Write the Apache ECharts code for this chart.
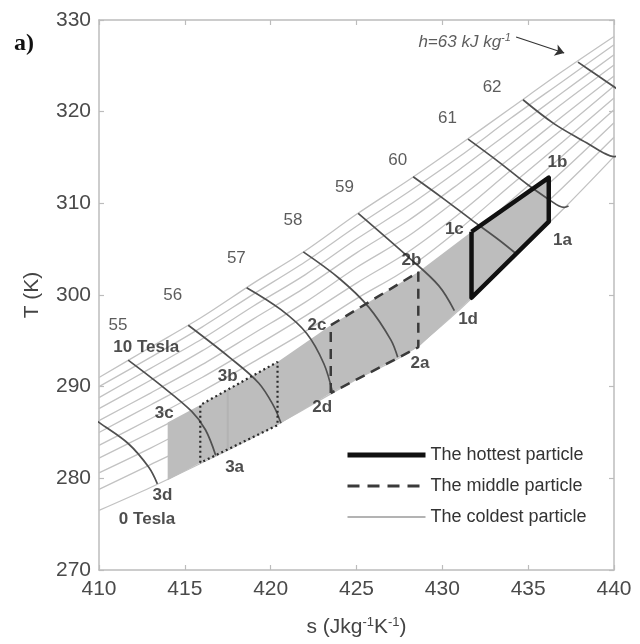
<!DOCTYPE html>
<html>
<head>
<meta charset="utf-8">
<script src="https://cdn.jsdelivr.net/npm/echarts@6/dist/echarts.min.js"></script>
<style>
  html, body { margin: 0; padding: 0; background: #ffffff; }
  #chart { width: 640px; height: 644px; }
</style>
</head>
<body>
<div id="chart"></div>
<script>
// Entropy grid (J kg-1 K-1) on which the isofield curves are tabulated
const entropyGrid = [410, 413, 416, 419, 422, 425, 428, 431, 434, 437, 440];

// Temperature (K) of each isofield curve, 0 T to 10 T
const tesla0  = [276.5, 279.0, 281.7, 284.5, 287.6, 290.8, 293.7, 298.4, 303.9, 309.3, 315.1];
const tesla1  = [278.8, 281.5, 284.2, 287.2, 290.4, 293.7, 296.7, 301.3, 306.5, 311.7, 317.2];
const tesla2  = [280.6, 283.3, 286.2, 289.2, 292.4, 295.8, 299.0, 303.4, 308.5, 313.5, 318.8];
const tesla3  = [282.2, 285.0, 287.9, 291.1, 294.3, 297.8, 301.0, 305.4, 310.3, 315.2, 320.2];
const tesla4  = [283.6, 286.5, 289.5, 292.7, 296.0, 299.6, 302.9, 307.2, 312.0, 316.7, 321.5];
const tesla5  = [285.0, 288.0, 291.0, 294.3, 297.7, 301.3, 304.7, 308.9, 313.6, 318.1, 322.8];
const tesla6  = [286.3, 289.3, 292.4, 295.8, 299.2, 303.0, 306.4, 310.6, 315.0, 319.5, 323.9];
const tesla7  = [287.6, 290.7, 293.9, 297.4, 300.8, 304.6, 308.1, 312.2, 316.5, 320.9, 325.1];
const tesla8  = [288.8, 292.0, 295.2, 298.8, 302.2, 306.1, 309.7, 313.7, 317.9, 322.1, 326.2];
const tesla9  = [290.0, 293.2, 296.5, 300.1, 303.6, 307.5, 311.2, 315.1, 319.3, 323.3, 327.3];
const tesla10 = [291.0, 294.3, 297.6, 301.3, 304.8, 308.8, 312.5, 316.4, 320.4, 324.4, 328.2];
const isofieldCurves = [tesla0, tesla1, tesla2, tesla3, tesla4, tesla5, tesla6, tesla7, tesla8, tesla9, tesla10];

// Constant-enthalpy curves (s, T), from the 10 T curve down to the 0 T curve
const h54 = [[409.0, 287.5], [410.0, 286.1], [411.7, 283.8], [412.9, 281.2], [413.4, 279.4]];
const h55 = [[411.7, 292.9], [413.5, 290.3], [415.4, 287.3], [416.2, 285.3], [416.8, 282.5]];
const h56 = [[415.2, 296.7], [417.6, 293.2], [419.3, 290.4], [420.2, 287.8], [420.6, 286.0]];
const h57 = [[418.6, 300.8], [420.6, 298.4], [422.1, 295.8], [423.1, 292.5], [423.6, 289.4]];
const h58 = [[421.9, 304.7], [424.0, 301.8], [425.7, 298.7], [427.0, 295.1], [427.4, 293.2]];
const h59 = [[425.1, 308.9], [428.1, 304.0], [429.8, 301.0], [430.7, 298.3]];
const h60 = [[428.3, 312.9], [430.0, 310.6], [431.7, 308.2], [433.3, 306.0], [434.3, 304.5]];
const h61 = [[431.5, 317.0], [433.3, 314.5], [435.0, 312.0], [436.3, 310.3], [436.8, 309.7], [437.1, 309.55], [437.35, 309.7]];
const h62 = [[434.7, 321.3], [436.5, 318.7], [438.4, 316.6], [439.4, 315.5], [440.0, 315.1], [440.3, 315.2]];
const h63 = [[437.9, 325.4], [439.0, 324.0], [440.4, 322.2]];
const enthalpyCurves = [h54, h55, h56, h57, h58, h59, h60, h61, h62, h63];

// Enthalpy values printed beside the curves, kJ kg-1
const enthalpyTags = ['55', '56', '57', '58', '59', '60', '61', '62'];
const enthalpyTagAt = [[411.1, 296.7], [414.3, 300.0], [418.0, 304.0], [421.3, 308.2],
                       [424.3, 311.8], [427.4, 314.7], [430.3, 319.3], [432.9, 322.7]];

// Region swept by the regenerator particles
const bandUpper = [[414.0, 286.1], [415.9, 288.0], [420.4, 292.7], [423.5, 296.7], [428.6, 302.5], [431.7, 306.9]];
const bandLower = [[414.0, 279.8], [415.9, 281.7], [420.4, 285.8], [423.5, 289.3], [428.6, 294.3], [431.7, 299.7]];

// Particle cycles: states a, b, c, d
const hottestCycle = [[431.7, 306.9], [436.2, 312.8], [436.2, 308.0], [431.7, 299.7], [431.7, 306.9]];
const middleCycle  = [[423.5, 289.3], [423.5, 296.7], [428.6, 302.5], [428.6, 294.3], [423.5, 289.3]];
const coldestCycle = [[415.9, 281.7], [415.9, 288.0], [420.4, 292.7], [420.4, 285.8], [415.9, 281.7]];
const coldestDivider = [[417.5, 289.7], [417.5, 283.2]];

// State labels
const stateNames = ['1a', '1b', '1c', '1d', '2a', '2b', '2c', '2d', '3a', '3b', '3c', '3d'];
const stateAt = [[437.0, 306.0], [436.7, 314.5], [430.7, 307.2], [431.5, 297.3],
                 [428.7, 292.6], [428.2, 303.8], [422.7, 296.7], [423.0, 287.8],
                 [417.9, 281.2], [417.5, 291.1], [413.8, 287.1], [413.7, 278.2]];

// Field labels
const fieldNames = ['10 Tesla', '0 Tesla'];
const fieldAt = [[412.75, 294.3], [412.8, 275.5]];

// Enthalpy arrow annotation
const arrowFrom = [434.3, 328.15];
const arrowTo = [437.1, 326.4];
const arrowTextAt = [431.3, 327.6];

const chart = echarts.init(document.getElementById('chart'), null, { renderer: 'canvas' });

const FONT = '"Liberation Sans", Arial, sans-serif';
const AXIS_GREY = '#bcbcbc';

const series = [];

isofieldCurves.forEach((temps, i) => {
  series.push({
    type: 'line',
    name: i + ' T',
    data: entropyGrid.map((s, k) => [s, temps[k]]),
    smooth: 0.3,
    symbol: 'none',
    silent: true,
    lineStyle: { color: '#c2c2c2', width: 1.3 },
    z: 1
  });
});

const bandPolygon = bandUpper.concat(bandLower.slice().reverse());
series.push({
  type: 'custom',
  name: 'band',
  coordinateSystem: 'cartesian2d',
  silent: true,
  data: [bandUpper[0]],
  renderItem: (params, api) => ({
    type: 'group',
    children: [
      { type: 'polygon', shape: { points: bandPolygon.map(p => api.coord(p)) }, style: { fill: '#bdbdbd' } },
      { type: 'polygon', shape: { points: hottestCycle.map(p => api.coord(p)) }, style: { fill: '#bdbdbd' } }
    ]
  }),
  z: 2
});

enthalpyCurves.forEach((pts, i) => {
  series.push({
    type: 'line',
    name: 'h' + (54 + i),
    data: pts,
    smooth: 0.35,
    symbol: 'none',
    silent: true,
    lineStyle: { color: '#505050', width: 1.7 },
    z: 3
  });
});

series.push({
  type: 'line', name: 'Coldest cycle outline', data: coldestCycle, symbol: 'none', silent: true,
  lineStyle: { color: '#2a2a2a', width: 2.2, type: [2, 3] }, z: 4
});
series.push({
  type: 'line', name: 'The coldest particle', data: coldestDivider, symbol: 'none', silent: true,
  itemStyle: { color: '#b3b3b3' },
  lineStyle: { color: '#b3b3b3', width: 2 }, z: 4
});
series.push({
  type: 'line', name: 'The middle particle', data: middleCycle, symbol: 'none', silent: true,
  itemStyle: { color: '#3a3a3a' },
  lineStyle: { color: '#3a3a3a', width: 2.5, type: [10, 7] }, z: 4
});
series.push({
  type: 'line', name: 'The hottest particle', data: hottestCycle, symbol: 'none', silent: true,
  itemStyle: { color: '#111111' },
  lineStyle: { color: '#111111', width: 4.5, join: 'round' }, z: 5
});

function textSeries(name, names, coords, style) {
  return {
    type: 'scatter',
    name: name,
    symbolSize: 0,
    silent: true,
    data: names.map((n, i) => ({ name: n, value: coords[i] })),
    label: Object.assign({ show: true, position: 'inside', formatter: p => p.name, fontFamily: FONT }, style),
    z: 6
  };
}

series.push(textSeries('enthalpy tags', enthalpyTags, enthalpyTagAt, { fontSize: 17, color: '#333333' }));
series.push(textSeries('states', stateNames, stateAt, { fontSize: 17, fontWeight: 'bold', color: '#222222' }));
series.push(textSeries('fields', fieldNames, fieldAt, { fontSize: 17, fontWeight: 'bold', color: '#222222' }));
series.push({
  type: 'scatter',
  name: 'arrow text',
  symbolSize: 0,
  silent: true,
  data: [{ name: 'h63', value: arrowTextAt }],
  label: {
    show: true, position: 'inside',
    formatter: '{t|h=63 kJ kg}{s|-1}',
    rich: {
      t: { fontSize: 17, fontStyle: 'italic', color: '#333333', fontFamily: FONT },
      s: { fontSize: 11, fontStyle: 'italic', color: '#333333', fontFamily: FONT, verticalAlign: 'top', padding: [0, 0, 8, 0] }
    }
  },
  z: 6
});
series.push({
  type: 'lines',
  name: 'arrow',
  coordinateSystem: 'cartesian2d',
  silent: true,
  data: [{ coords: [arrowFrom, arrowTo] }],
  symbol: ['none', 'arrow'],
  symbolSize: 9,
  lineStyle: { color: '#333333', width: 1.2, opacity: 1 },
  z: 6
});

const axisCommon = {
  type: 'value',
  axisLine: { show: true, onZero: false, lineStyle: { color: AXIS_GREY, width: 1.5 } },
  axisTick: { show: true, inside: true, length: 5, lineStyle: { color: AXIS_GREY, width: 1.2 } },
  splitLine: { show: false }
};

const option = {
  backgroundColor: '#ffffff',
  animation: false,
  grid: { left: 99, right: 26, top: 20, bottom: 74, containLabel: false },
  xAxis: [
    Object.assign({}, axisCommon, {
      min: 410, max: 440, interval: 5, position: 'bottom',
      axisLabel: { fontSize: 21, color: '#4a4a4a', fontFamily: FONT, margin: 9 },
      name: '{m|s (Jkg}{s|-1}{m|K}{s|-1}{m|)}',
      nameLocation: 'middle',
      nameGap: 46,
      nameTextStyle: {
        rich: {
          m: { fontSize: 21, color: '#444444', fontFamily: FONT },
          s: { fontSize: 13, color: '#444444', fontFamily: FONT, verticalAlign: 'top', padding: [0, 0, 10, 0] }
        }
      }
    }),
    Object.assign({}, axisCommon, {
      min: 410, max: 440, interval: 5, position: 'top',
      axisLabel: { show: false }
    })
  ],
  yAxis: [
    Object.assign({}, axisCommon, {
      min: 270, max: 330, interval: 10, position: 'left',
      axisLabel: { fontSize: 21, color: '#4a4a4a', fontFamily: FONT, margin: 8 },
      name: 'T (K)',
      nameLocation: 'middle',
      nameGap: 56,
      nameTextStyle: { fontSize: 21, color: '#444444', fontFamily: FONT }
    }),
    Object.assign({}, axisCommon, {
      min: 270, max: 330, interval: 10, position: 'right',
      axisLabel: { show: false }
    })
  ],
  legend: {
    data: [
      { name: 'The hottest particle', lineStyle: { width: 5, color: '#111111' } },
      { name: 'The middle particle', lineStyle: { width: 3, color: '#3a3a3a', type: [12, 8] } },
      { name: 'The coldest particle', lineStyle: { width: 2, color: '#b3b3b3' } }
    ],
    orient: 'vertical',
    left: 340,
    top: 441,
    itemWidth: 78,
    itemHeight: 14,
    itemGap: 13,
    selectedMode: false,
    itemStyle: { opacity: 0, borderWidth: 0 },
    textStyle: { fontSize: 18, color: '#333333', fontFamily: FONT, padding: [0, 0, 0, 0] }
  },
  graphic: [
    {
      type: 'text', left: 14, top: 32,
      style: { text: 'a)', font: 'bold 24px "Liberation Serif", "Times New Roman", serif', fill: '#111111' }
    }
  ],
  series: series
};

chart.setOption(option);
</script>
</body>
</html>
